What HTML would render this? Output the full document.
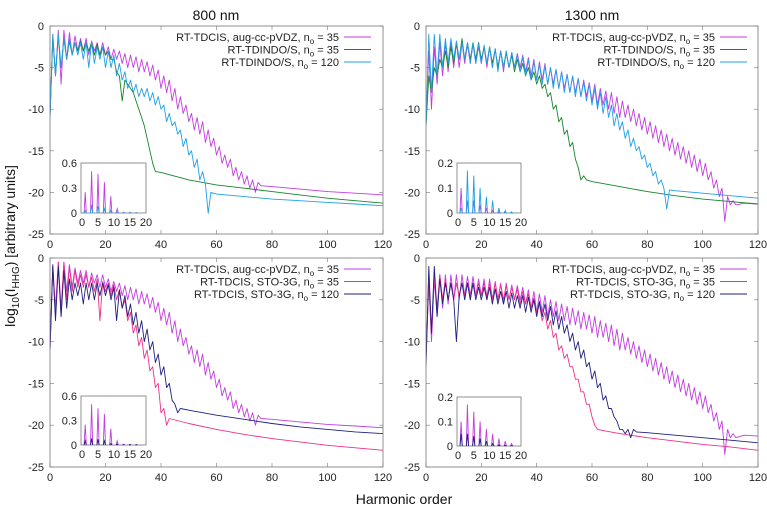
<!DOCTYPE html>
<html><head><meta charset="utf-8"><style>
html,body{margin:0;padding:0;background:#fff;}
svg{display:block;font-family:"Liberation Sans",sans-serif;}
</style></head><body>
<svg id="chart" width="767" height="508" viewBox="0 0 767 508">
<text x="216" y="20" font-size="14" text-anchor="middle" fill="#111">800 nm</text>
<text x="592" y="20" font-size="14" text-anchor="middle" fill="#111">1300 nm</text>
<text transform="translate(15,246) rotate(-90)" font-size="14" text-anchor="middle" fill="#111">log<tspan font-size="10" dy="4">10</tspan><tspan dy="-4">(I</tspan><tspan font-size="10" dy="4">HHG</tspan><tspan dy="-4">) [arbitrary units]</tspan></text>
<text x="404" y="504" font-size="14" text-anchor="middle" fill="#111">Harmonic order</text>
</svg>
<script>
// ---------------- data ----------------
const ticksX = [0,20,40,60,80,100,120];
const ticksY = [0,-5,-10,-15,-20,-25];
const insetTicksX = [0,5,10,15,20];
const insetH = [1,3,5,7,9,11,13,15,17];

const tlAugV = [-11,-1,-6,-0.5,-7,-0.5,-4,-0.8,-3.5,-1.2,-3,-1.5,-3,-1.5,-3.5,-1.8,-3,-2,-3.5,-2,-3.5,-2.5,-4,-2.8,-4,-3,-4.5,-3.3,-5,-3.5,-5,-3.7,-5.5,-4,-5.5,-4.3,-6,-4.7,-6.5,-5.3,-7.5,-6,-8,-6.5,-9,-7.5,-10,-8.5,-10.5,-9.5,-11.5,-10.5,-12.5,-11,-13,-11.5,-14,-12.5,-14.5,-13.5,-15.5,-14.5,-16.5,-15.5,-17,-16,-18,-17,-18.5,-17.5,-19,-18,-19.5,-18.5,-20,-18.8,-19.2];
const tlAugTailH = [80,90,100,110,120];
const tlAugTailV = [-19.3,-19.6,-19.9,-20.1,-20.3];
const tlGreenV = [-11,-1.5,-6,-1.2,-5,-1.5,-4,-1.8,-3.5,-2,-3,-1.8,-3,-2,-3,-2,-3.5,-2.2,-3.5,-2.5,-3.5,-3,-4,-4,-5.5,-6,-9,-6.5,-7,-7.5,-8,-9,-10,-11,-12,-13.5,-15,-16.5,-17.5];
const tlGreenTailH = [40,50,60,70,80,90,100,110,120];
const tlGreenTailV = [-17.6,-18.5,-19.1,-19.5,-19.9,-20.3,-20.7,-21,-21.3];
const tlBlueV = [-11,-1,-6,-1,-5,-1.5,-4,-1.5,-3.5,-2,-3.5,-2,-4,-2,-5,-2,-4.5,-2.5,-4,-2.5,-5,-3,-5,-3.5,-6,-4.5,-6.5,-5.5,-7.5,-6.5,-8,-7,-8.5,-7.5,-8.5,-7.5,-9,-8,-9.5,-8.5,-10,-9.5,-11.5,-10.5,-12,-11.5,-13,-12.5,-14.5,-13.5,-15.5,-15,-17,-16,-18.5,-17.5,-19,-22.5];
const tlBlueTailH = [58,60,70,80,90,100,110,120];
const tlBlueTailV = [-20,-20.2,-20.5,-20.8,-21,-21.2,-21.4,-21.6];

const trAugV = [-12,-3,-10,-2.5,-7,-2,-6,-2,-5.5,-2,-5,-2,-5,-2,-4.5,-2.2,-4.5,-2.2,-4.5,-2.5,-4.5,-2.5,-5,-2.5,-5,-2.8,-5,-3,-5.5,-3,-5,-3.2,-5,-3.3,-5,-3.5,-5.5,-3.8,-6,-4,-6.5,-4.3,-6.5,-4.5,-7,-5,-7,-5.2,-7.5,-5.5,-7.5,-5.8,-8,-6,-8,-6.3,-8.5,-6.5,-8.5,-6.8,-9,-7,-9.5,-7.5,-9.5,-7.8,-10,-8,-10.5,-8.5,-11,-9,-11,-9.5,-11.5,-10,-12,-10.5,-12.5,-11,-13,-11.5,-13.5,-12,-14,-12.5,-14.5,-13,-15,-13.5,-15.5,-14,-16,-14.5,-16.5,-15,-17,-15.5,-17.5,-16,-18,-16.5,-18.5,-17.5,-19.5,-18.5,-20.5,-19.5,-23.5,-20.5,-21.5,-21,-21.5];
const trAugTailH = [115,120];
const trAugTailV = [-21.3,-21.4];
const trGreenV = [-12,-6,-8,-5,-6,-4,-5,-3,-5,-2.5,-4.5,-2,-4,-1.5,-4,-2,-4,-2,-4,-2,-4,-2.5,-4.5,-2.5,-4.5,-2.8,-5,-3,-5,-3.2,-5,-3.5,-5.5,-4,-5.5,-4.5,-6,-5,-6.5,-5.5,-7,-6,-7.5,-7,-8.5,-8,-10,-9.5,-11.5,-11,-13,-12.5,-14.5,-14,-16,-17,-18.5,-18,-18.5];
const trGreenTailH = [60,70,80,90,100,110,120];
const trGreenTailV = [-18.7,-19.3,-19.9,-20.4,-20.8,-21.1,-21.4];
const trBlueV = [-12,-1,-8,-1,-6,-1,-5,-1.5,-4.5,-1.5,-4,-1.8,-4,-2,-4,-2,-4.5,-2,-4.5,-2.2,-4.5,-2.3,-4.5,-2.5,-5,-2.7,-5.5,-3,-5,-3,-5,-3.2,-5,-3.5,-5.5,-3.7,-6,-4,-6.5,-4.3,-6.5,-4.6,-7,-4.8,-7,-5,-7.5,-5.2,-7.5,-5.5,-8,-5.8,-8,-6,-8.5,-6.3,-8.5,-6.8,-9,-7,-9.5,-7.5,-10,-8,-10.5,-8.5,-11,-9.5,-12,-10.5,-12.5,-11.5,-13.5,-12.5,-14.5,-13.5,-15,-14.5,-16,-15.5,-17,-16.5,-18,-17.5,-19,-18.5,-19.5,-22];
const trBlueTailH = [88,90,100,110,120];
const trBlueTailV = [-19.7,-19.8,-20.1,-20.4,-20.7];

const blAugV = tlAugV.slice();
const blAugTailH = [80,90,100,110,120];
const blAugTailV = [-19.3,-19.6,-19.9,-20.1,-20.3];
const blPinkV = [-11,-1,-7,-0.5,-6,-0.5,-5,-1,-4,-1.5,-3.5,-2,-3.5,-2,-3.5,-2.3,-4,-2.5,-7.5,-2.8,-4,-3,-4.5,-3.2,-5,-3.8,-6,-5,-7.5,-6.5,-9,-8,-10.5,-9.5,-12,-11,-13.5,-13,-15.5,-15,-18.5,-18,-20];
const blPinkTailH = [43,50,60,70,80,90,100,110,120];
const blPinkTailV = [-19.2,-19.8,-20.5,-21.1,-21.6,-22,-22.4,-22.7,-23];
const blNavyV = [-11,-0.8,-7.5,-1,-7,-1.5,-6,-2.5,-5,-3,-4.5,-3,-5.5,-3,-5,-3,-5,-3,-4.5,-3,-4.5,-3.2,-5,-3.5,-7.5,-3.8,-6,-4.5,-7,-5.5,-8,-6.5,-9,-7.5,-10,-8.5,-11,-10,-12.5,-11.5,-14,-13,-15.5,-15,-17,-17.5,-18.5,-18];
const blNavyTailH = [50,60,70,80,90,100,110,120];
const blNavyTailV = [-18.2,-18.8,-19.3,-19.8,-20.2,-20.5,-20.8,-21];

const brAugV = trAugV.slice();
const brAugTailH = [115,120];
const brAugTailV = [-21.2,-21.3];
const brPinkV = [-12,-3,-9,-2,-6,-2,-5,-2.5,-5,-3,-5,-3,-4.5,-3,-4.5,-3,-5,-3,-4.5,-3,-4.5,-3,-4.5,-3,-5,-3,-5,-3.2,-5,-3.3,-5,-3.5,-5,-3.7,-5.5,-4,-5.5,-4.3,-6,-4.8,-6.5,-5.5,-7.5,-6.5,-8.5,-7.5,-9.5,-9,-11,-10.5,-12,-11.5,-13,-13,-14.5,-14.5,-16,-16,-17.5,-17.5,-19,-20,-20.5];
const brPinkTailH = [65,70,80,90,100,110,120];
const brPinkTailV = [-20.7,-21,-21.5,-21.9,-22.3,-22.6,-23];
const brNavyV = [-13,-1,-9,-1,-7,-2.5,-5.5,-3,-5,-3,-5,-10,-4.5,-3,-5,-3,-5,-3,-5,-3.5,-5,-3.5,-5,-3.5,-5.5,-3.7,-5.5,-4,-5.5,-4,-6,-4.2,-6,-4.5,-6,-4.5,-6.5,-4.7,-6.5,-5,-7,-5.2,-7,-5.5,-7.5,-5.8,-8,-6.3,-8.5,-7,-9,-8,-10,-9,-11,-10,-12,-11,-13,-12.5,-14.5,-13.5,-15.5,-15,-17,-16.5,-18,-18,-19,-19.5,-20.5,-20.5,-21,-20.5,-21.5,-20.5];
const brNavyTailH = [76,80,90,100,110,120];
const brNavyTailV = [-20.8,-20.9,-21.2,-21.5,-21.8,-22.1];

const tlInsetA = [0.25,0.5,0.47,0.37,0.2,0.05,0.01,0.01,0.005];
const tlInsetB = [0.03,0.1,0.08,0.05,0.03,0.01,0.005,0.005,0.003];
const trInsetA = [0.1,0.05,0.05,0.03,0.02,0.01,0.005,0.003,0.002];
const trInsetB = [0.02,0.17,0.15,0.1,0.065,0.05,0.02,0.01,0.005];
const blInsetA = [0.25,0.5,0.45,0.38,0.2,0.05,0.01,0.01,0.005];
const blInsetB = [0.05,0.08,0.07,0.05,0.02,0.01,0.005,0.003,0.002];
const brInsetA = [0.1,0.17,0.14,0.1,0.07,0.05,0.03,0.02,0.01];
const brInsetB = [0.05,0.05,0.04,0.03,0.02,0.01,0.005,0.003,0.002];

// ---------------- layout ----------------
const C = {aug:'#c33ee0', green:'#17852b', blue:'#1fa0e8', pink:'#f0308a', navy:'#202080'};
const panels = [
 {id:'tl', x0:50, x1:383, y0:26, y1:234, ix0:81, ix1:146, iy0:163, iy1:213, imax:0.6, iticks:[0,0.3,0.6],
  legend:['RT-TDCIS, aug-cc-pVDZ, n','RT-TDINDO/S, n','RT-TDINDO/S, n'], lval:['35','35','120'],
  series:[['aug',tlAugV,tlAugTailH,tlAugTailV],['green',tlGreenV,tlGreenTailH,tlGreenTailV],['blue',tlBlueV,tlBlueTailH,tlBlueTailV]],
  inset:[['aug',tlInsetA],['blue',tlInsetB]]},
 {id:'tr', x0:426, x1:758, y0:26, y1:234, ix0:457, ix1:521, iy0:163, iy1:213, imax:0.2, iticks:[0,0.1,0.2],
  legend:['RT-TDCIS, aug-cc-pVDZ, n','RT-TDINDO/S, n','RT-TDINDO/S, n'], lval:['35','35','120'],
  series:[['aug',trAugV,trAugTailH,trAugTailV],['green',trGreenV,trGreenTailH,trGreenTailV],['blue',trBlueV,trBlueTailH,trBlueTailV]],
  inset:[['aug',trInsetA],['blue',trInsetB]]},
 {id:'bl', x0:50, x1:383, y0:258, y1:467, ix0:81, ix1:146, iy0:396, iy1:445, imax:0.6, iticks:[0,0.3,0.6],
  legend:['RT-TDCIS, aug-cc-pVDZ, n','RT-TDCIS, STO-3G, n','RT-TDCIS, STO-3G, n'], lval:['35','35','120'],
  series:[['aug',blAugV,blAugTailH,blAugTailV],['pink',blPinkV,blPinkTailH,blPinkTailV],['navy',blNavyV,blNavyTailH,blNavyTailV]],
  inset:[['aug',blInsetA],['navy',blInsetB]]},
 {id:'br', x0:426, x1:758, y0:258, y1:467, ix0:457, ix1:521, iy0:397, iy1:446, imax:0.2, iticks:[0,0.1,0.2],
  legend:['RT-TDCIS, aug-cc-pVDZ, n','RT-TDCIS, STO-3G, n','RT-TDCIS, STO-3G, n'], lval:['35','35','120'],
  series:[['aug',brAugV,brAugTailH,brAugTailV],['pink',brPinkV,brPinkTailH,brPinkTailV],['navy',brNavyV,brNavyTailH,brNavyTailV]],
  inset:[['aug',brInsetA],['navy',brInsetB]]}
];
const NS='http://www.w3.org/2000/svg';
const svg=document.getElementById('chart');
function mk(tag,attrs,parent){const e=document.createElementNS(NS,tag);for(const k in attrs)e.setAttribute(k,attrs[k]);(parent||svg).appendChild(e);return e;}

panels.forEach(p=>{
  const g=mk('g',{});
  
  
  const sx=h=>p.x0+(h/120)*(p.x1-p.x0);
  const sy=v=>p.y0+(-v/25)*(p.y1-p.y0);
  const clipId='clip-'+p.id;
  const cp=mk('clipPath',{id:clipId},g);
  mk('rect',{x:p.x0,y:p.y0,width:p.x1-p.x0,height:p.y1-p.y0},cp);
  // ticks
  ticksX.forEach(t=>{
    const tx=mk('text',{x:sx(t),y:p.y1+14,'font-size':11,'text-anchor':'middle',fill:'#222'},g);
    tx.textContent=t;
    
    
    mk('line',{x1:sx(t),x2:sx(t),y1:p.y1,y2:p.y1-4,stroke:'#777','stroke-width':0.6},g);
    mk('line',{x1:sx(t),x2:sx(t),y1:p.y0,y2:p.y0+4,stroke:'#777','stroke-width':0.6},g);
  });
  ticksY.forEach(t=>{
    const ty=mk('text',{x:p.x0-6,y:sy(t)+4,'font-size':11,'text-anchor':'end',fill:'#222'},g);
    ty.textContent=t;
    
    
    mk('line',{x1:p.x0,x2:p.x0+4,y1:sy(t),y2:sy(t),stroke:'#777','stroke-width':0.6},g);
    mk('line',{x1:p.x1,x2:p.x1-4,y1:sy(t),y2:sy(t),stroke:'#777','stroke-width':0.6},g);
  });
  // series
  const sg=mk('g',{'clip-path':'url(#'+clipId+')'},g);
  p.series.forEach(s=>{
    const [col,vals,th,tv]=s;
    let d='';
    vals.forEach((v,i)=>{d+=(i?'L':'M')+sx(i).toFixed(1)+','+sy(v).toFixed(1);});
    th.forEach((h,i)=>{d+='L'+sx(h).toFixed(1)+','+sy(tv[i]).toFixed(1);});
    const path=mk('path',{d:d,fill:'none',stroke:C[col],'stroke-width':0.9,'stroke-linejoin':'round'},sg);
    
    
  });
  // frame
  const fr=mk('rect',{x:p.x0,y:p.y0,width:p.x1-p.x0,height:p.y1-p.y0,fill:'none',stroke:'#777','stroke-width':0.8},g);
  
  
  // legend
  p.legend.forEach((t,i)=>{
    const y=p.y0+11+i*12.5;
    const lt=mk('text',{x:p.x0+289,y:y+4,'font-size':11,'text-anchor':'end',fill:'#222'},g);
    lt.innerHTML=t+'<tspan font-size="8" dy="3">o</tspan><tspan dy="-3"> = '+p.lval[i]+'</tspan>';
    
    
    const col=p.series[i][0];
    const ll=mk('line',{x1:p.x0+294,x2:p.x0+321,y1:y,y2:y,stroke:C[col],'stroke-width':1},g);
    
    
  });
  // inset
  const ig=mk('g',{},g);
  
  
  mk('rect',{x:p.ix0,y:p.iy0,width:p.ix1-p.ix0,height:p.iy1-p.iy0,fill:'#fff',stroke:'#777','stroke-width':0.8},ig);
  const ix=h=>p.ix0+1+(h/20)*(p.ix1-p.ix0-1);
  const iy=v=>p.iy1-(v/p.imax)*(p.iy1-p.iy0);
  p.inset.forEach(s=>{
    const [col,vals]=s;
    let d='';
    insetH.forEach((h,i)=>{d+='M'+ix(h-0.35).toFixed(1)+','+iy(0).toFixed(1)+'L'+ix(h).toFixed(1)+','+iy(vals[i]).toFixed(1)+'L'+ix(h+0.35).toFixed(1)+','+iy(0).toFixed(1);});
    const sp=mk('path',{d:d,fill:'none',stroke:C[col],'stroke-width':0.9},ig);
    
    
  });
  insetTicksX.forEach(t=>{
    const tx=mk('text',{x:ix(t),y:p.iy1+13,'font-size':11,'text-anchor':'middle',fill:'#222'},ig);
    tx.textContent=t;
    
    
  });
  p.iticks.forEach(t=>{
    const ty=mk('text',{x:p.ix0-4,y:iy(t)+4,'font-size':11,'text-anchor':'end',fill:'#222'},ig);
    ty.textContent=t;
    
    
  });
});
</script>
</body></html>
